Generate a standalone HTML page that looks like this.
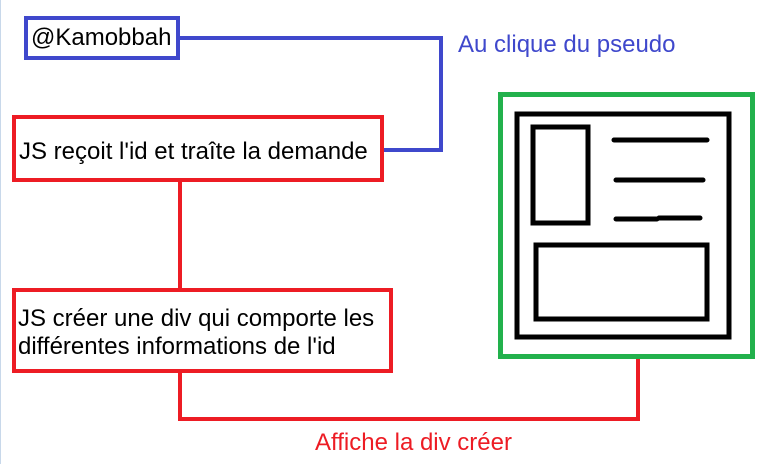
<!DOCTYPE html>
<html><head><meta charset="utf-8"><style>
body{margin:0;width:772px;height:464px;background:#fff;position:relative;overflow:hidden;font-family:"Liberation Sans",Arial,sans-serif;}
.t{position:absolute;font-size:24px;line-height:28px;white-space:nowrap;color:#000;}
</style></head><body>
<svg width="772" height="464" style="position:absolute;left:0;top:0">
<line x1="0.5" y1="0" x2="0.5" y2="464" stroke="#c8d8ea" stroke-width="1"/>
<rect x="26" y="18" width="152" height="40" fill="none" stroke="#3f48cc" stroke-width="4"/>
<polyline points="178,38 441,38 441,150 384,150" fill="none" stroke="#3f48cc" stroke-width="4"/>
<rect x="14" y="117" width="368" height="63" fill="none" stroke="#ed1c24" stroke-width="4"/>
<line x1="180" y1="180" x2="180" y2="290" stroke="#ed1c24" stroke-width="4"/>
<rect x="14" y="290" width="377" height="81" fill="none" stroke="#ed1c24" stroke-width="4"/>
<polyline points="180,371 180,419 638,419 638,359" fill="none" stroke="#ed1c24" stroke-width="4"/>
<rect x="500.5" y="94.5" width="252" height="262" fill="none" stroke="#22b14c" stroke-width="5"/>
<rect x="517" y="114" width="212" height="223" fill="none" stroke="#000" stroke-width="5"/>
<rect x="533" y="127" width="55" height="96" fill="none" stroke="#000" stroke-width="5"/>
<rect x="536" y="245" width="171" height="74" fill="none" stroke="#000" stroke-width="5"/>
<g stroke="#000" stroke-width="5" stroke-linecap="round">
<line x1="614" y1="140" x2="707" y2="140"/>
<line x1="616" y1="180" x2="703" y2="180"/>
<line x1="616" y1="219" x2="657" y2="219"/>
<line x1="659" y1="218" x2="700" y2="218"/>
</g>
</svg>
<div class="t" style="left:31px;top:24px">@Kamobbah</div>
<div class="t" style="left:19px;top:138px">JS reçoit l'id et traîte la demande</div>
<div class="t" style="left:18px;top:305px">JS créer une div qui comporte les<br>différentes informations de l'id</div>
<div class="t" style="left:458px;top:31px;color:#3f48cc">Au clique du pseudo</div>
<div class="t" style="left:315px;top:429px;color:#ed1c24">Affiche la div créer</div>
</body></html>
